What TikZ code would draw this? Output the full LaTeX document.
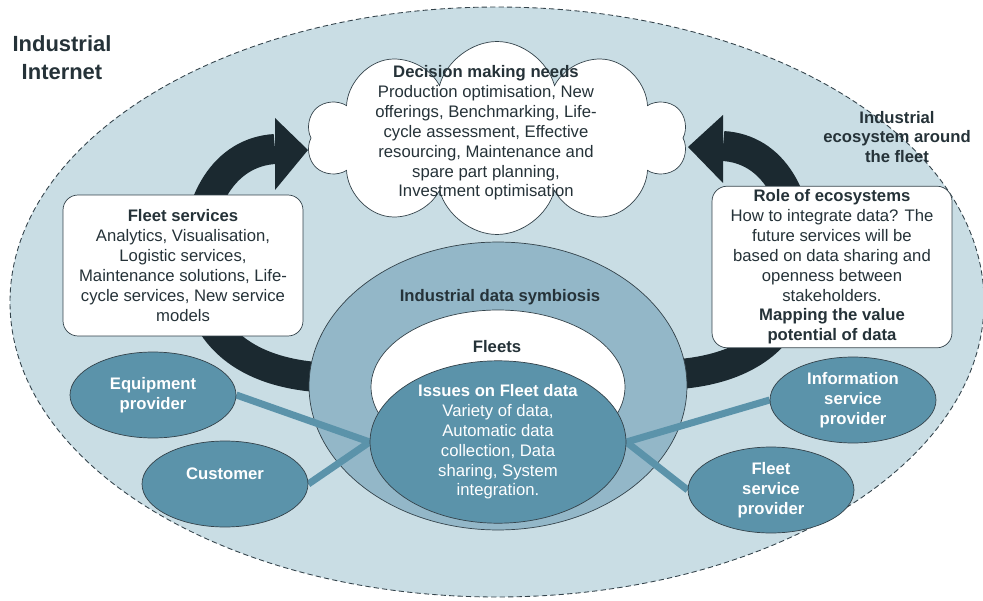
\documentclass[tikz,border=0pt]{standalone}
\usepackage{fontspec}
\setmainfont{Liberation Sans}
\usetikzlibrary{shapes.geometric,shapes.symbols,positioning}
\definecolor{ecofill}{HTML}{C9DDE4}
\definecolor{symbfill}{HTML}{93B7C8}
\definecolor{actorfill}{HTML}{5B93AA}
\definecolor{flowdark}{HTML}{1B2930}
\definecolor{textdark}{HTML}{253238}
\definecolor{edgegray}{HTML}{34434B}
\pgfdeclarelayer{fg}
\pgfsetlayers{main,fg}
\tikzset{
  body/.style={font=\fontsize{9.5pt}{11.3pt}\selectfont, text=textdark, align=center},
  bodybold/.style={body, font=\fontsize{9.5pt}{11.3pt}\selectfont\bfseries},
  infobox/.style={body, draw=edgegray, fill=white, rounded corners=0.3cm, minimum width=4.8cm, inner sep=2pt},
  actor/.style={ellipse, draw=edgegray, fill=actorfill, minimum width=3.32cm, minimum height=1.72cm, inner sep=0pt,
    font=\fontsize{9.5pt}{11.3pt}\selectfont\bfseries, text=white, align=center},
  flow/.style={draw=flowdark, line width=0.6cm},
  link/.style={draw=actorfill, line width=0.14cm},
}
\begin{document}
\begin{tikzpicture}[x=0.02cm, y=-0.02cm]
\useasboundingbox (0,0) rectangle (983,601);
% ecosystem around the fleet
\draw[edgegray, fill=ecofill, line width=0.5pt, dash pattern=on 3pt off 1.8pt] (497,302) ellipse [x radius=487, y radius=295];
\node[font=\fontsize{12.5pt}{15.9pt}\selectfont\bfseries, text=textdark, align=center] (title) at (62,58) {Industrial\\Internet};
\node[bodybold] (ecolabel) at (897,137) {Industrial\\ecosystem around\\the fleet};

% the two big arrows
\draw[flow] (340,378) .. controls (230,378) and (196,320) .. (196,266) .. controls (196,200) and (225,152) .. (275,149);
\fill[flowdark] (275,118) -- (308,150) -- (275,190) -- cycle;
\draw[flow] (656,375) .. controls (766,375) and (800,317) .. (800,263) .. controls (800,197) and (773,149) .. (723,146);
\fill[flowdark] (723,115) -- (688,147) -- (723,183) -- cycle;

% decision making
\node[cloud, cloud puffs=10, draw=edgegray, fill=white, minimum width=7.6cm, minimum height=3.86cm, inner sep=0pt] (needs) at (497,138) {};
\node[body] (needstext) at (486,133) {\textbf{Decision making needs}\\Production optimisation, New\\offerings, Benchmarking, Life-\\cycle assessment, Effective\\resourcing, Maintenance and\\spare part planning,\\Investment optimisation};

\node[infobox, minimum height=2.82cm] (fleetsrv) at (183,265.5) {\textbf{Fleet services}\\Analytics, Visualisation,\\Logistic services,\\Maintenance solutions, Life-\\cycle services, New service\\models};
\node[infobox, minimum height=3.2cm] (roles) at (832,267) {\textbf{Role of ecosystems}\\How to integrate data? The\\future services will be\\based on data sharing and\\openness between\\stakeholders.\\\textbf{Mapping the value}\\\textbf{potential of data}};

% data symbiosis and fleets
\node[ellipse, draw=edgegray, fill=symbfill, minimum width=7.56cm, minimum height=5.76cm, inner sep=0pt] (symb) at (498,386) {};
\node[bodybold] (symbtext) at (500,297) {Industrial data symbiosis};
\node[ellipse, draw=edgegray, fill=white, minimum width=5.08cm, minimum height=3.08cm, inner sep=0pt] (fleets) at (498,387) {};
\node[bodybold] (fleetstext) at (497,347) {Fleets};

\begin{pgfonlayer}{fg}
\node[actor, minimum width=5.12cm, minimum height=3.2cm, font=\fontsize{9.5pt}{11.3pt}\selectfont] (issues) at (498,442) {\textbf{Issues on Fleet data}\\Variety of data,\\Automatic data\\collection, Data\\sharing, System\\integration.};
\node[actor] (equip) at (153,395) {Equipment\\provider};
\node[actor] (cust) at (225,484) {Customer\\~};
\node[actor] (info) at (853,400) {Information\\service\\provider};
\node[actor] (fleetprov) at (771,490) {Fleet\\service\\provider};
\end{pgfonlayer}

% stakeholders to fleet data
\draw[link] (equip.east) -- (issues.west);
\draw[link] (cust.east) -- (issues.west);
\draw[link] (issues.east) -- (info.west);
\draw[link] (issues.east) -- (fleetprov.west);
\end{tikzpicture}
\end{document}
